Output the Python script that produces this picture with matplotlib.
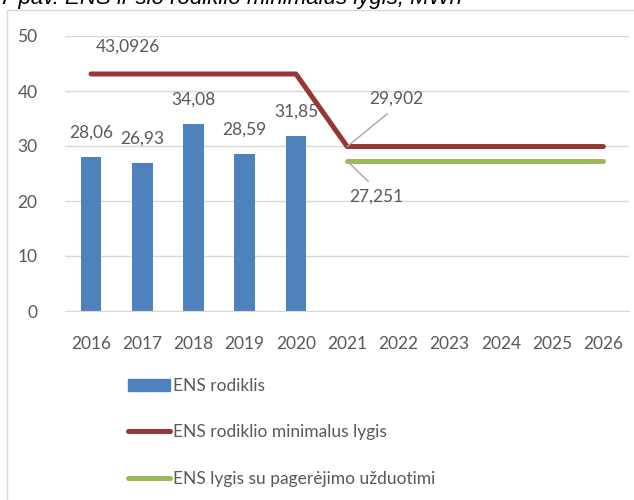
import numpy as np
import matplotlib.pyplot as plt
from matplotlib.patches import Rectangle
from matplotlib.lines import Line2D

years = ['2016', '2017', '2018', '2019', '2020', '2021', '2022', '2023', '2024', '2025', '2026']
ens = [28.06, 26.93, 34.08, 28.59, 31.85]
ens_min = [43.0926] * 5 + [29.902] * 6
ens_target = [np.nan] * 5 + [27.251] * 6

bar_color = '#4f81bd'
red = '#953735'
green = '#9bbb59'
txt = '#595959'

plt.rcParams['font.family'] = ['Lato', 'DejaVu Sans']
plt.rcParams['font.size'] = 12.5

fig = plt.figure(figsize=(6.34, 5), dpi=100)
ax = fig.add_axes([65.4 / 634, 1 - 311 / 500, (629 - 65.4) / 634, (311 - 36) / 500])

x = np.arange(len(years))
ax.bar(x[:len(ens)], ens, width=0.4, color=bar_color, zorder=2)
ax.plot(x, ens_min, color=red, lw=3.6, solid_capstyle='round', zorder=3)
ax.plot(x, ens_target, color=green, lw=3.6, solid_capstyle='round', zorder=3)

for xi, v in zip(x, ens):
    ax.annotate(f'{v:.2f}'.replace('.', ','), (xi, v), xytext=(0, 24),
                textcoords='offset pixels', ha='center', va='center', color=txt)

ax.annotate('43,0926', (0, ens_min[0]), xytext=(37, 27), textcoords='offset pixels',
            ha='center', va='center', color=txt)
ax.annotate('29,902', (5, ens_min[5]), xytext=(49, 48), textcoords='offset pixels',
            ha='center', va='center', color=txt,
            arrowprops=dict(arrowstyle='-', color='#a6a6a6', lw=1,
                            relpos=(0.5, 0), shrinkA=5, shrinkB=0))
ax.annotate('27,251', (5, ens_target[5]), xytext=(29, -36), textcoords='offset pixels',
            ha='center', va='center', color=txt,
            arrowprops=dict(arrowstyle='-', color='#a6a6a6', lw=1,
                            relpos=(0.5, 1), shrinkA=5, shrinkB=0))

ax.set_xlim(-0.5, len(years) - 0.5)
ax.set_ylim(0, 50)
ax.set_xticks(x)
ax.set_xticklabels(years)
ax.set_yticks(range(0, 51, 10))
ax.tick_params(length=0, colors=txt, labelsize=12.5)
ax.tick_params(axis='x', pad=18)
ax.tick_params(axis='y', pad=20)
ax.grid(axis='y', color='#d9d9d9', lw=1, zorder=0)
ax.set_axisbelow(True)
for s in ['top', 'right', 'left']:
    ax.spines[s].set_visible(False)
ax.spines['bottom'].set_color('#d9d9d9')

handles = [
    Rectangle((0, 0), 1, 1, color=bar_color),
    Line2D([], [], color=red, lw=3.6, solid_capstyle='round'),
    Line2D([], [], color=green, lw=3.6, solid_capstyle='round'),
]
labels = ['ENS rodiklis', 'ENS rodiklio minimalus lygis', 'ENS lygis su pagerėjimo užduotimi']
leg = fig.legend(handles, labels, loc='upper left', bbox_to_anchor=(128 / 634, 1 - 378 / 500),
                 frameon=False, borderpad=0, borderaxespad=0, labelspacing=1.75,
                 handlelength=2.4, handletextpad=0.2, fontsize=12.5)
for t in leg.get_texts():
    t.set_color(txt)

fig.patches.append(Rectangle((7 / 634, -0.1), 1.1, 1.1 - 10 / 500, transform=fig.transFigure,
                             fill=False, edgecolor='#d9d9d9', lw=1))
fig.text(0, 1 - 4 / 500, '7 pav. ENS ir šio rodiklio minimalus lygis, MWh', ha='left',
         va='baseline', style='italic', fontsize=16, family='Liberation Sans')

fig.savefig('out.png', dpi=100)
